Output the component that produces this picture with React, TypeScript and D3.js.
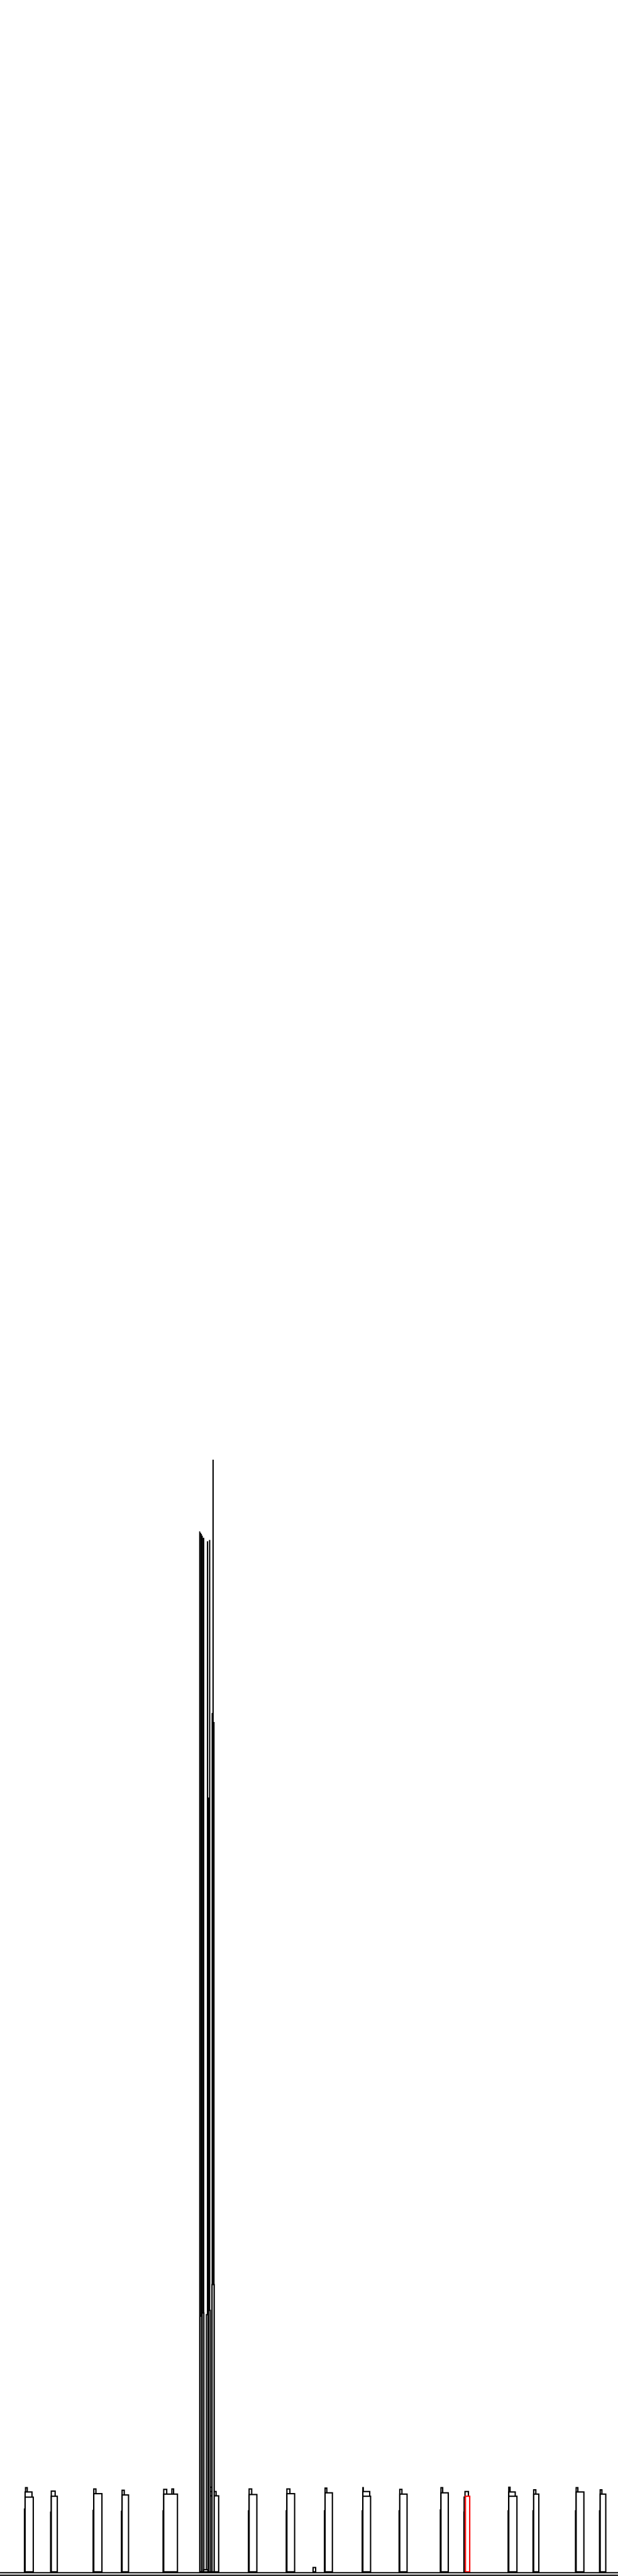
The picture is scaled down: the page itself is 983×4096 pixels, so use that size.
import React from "react";
import * as d3 from "d3";

// Reference frame: positions along the baseline (0..1440) and heights above the baseline.
const X_DOMAIN: [number, number] = [0, 1440];
const Y_MAX = 5990;
const BASE = 5992;

type Seg = [number, number, number]; // [start, end, value]

// lower, slightly offset outline behind each column
const lowLayer: Seg[] = [
  [55.5, 77, 147], [116.5, 133, 140], [215.5, 237, 144], [281.5, 299, 142], [378.5, 413, 143],
  [486.5, 509, 143], [577.5, 598, 143], [665.5, 686, 143], [754.5, 774, 143], [842.5, 863, 143],
  [928.5, 948, 143], [1024.5, 1044, 145], [1079.5, 1091, 140], [1182.5, 1204, 143],
  [1240.5, 1255, 143], [1339.5, 1360, 143], [1395.5, 1411, 143],
];

// tallest small cap on each column
const capLayer: Seg[] = [
  [58, 65, 197], [118, 130, 189], [217, 225, 194], [283, 291, 191], [380, 390, 193], [399, 406, 194],
  [488, 498, 198], [579, 588, 194], [667, 677, 194], [756, 763, 196], [844, 848, 197],
  [930, 938, 193], [1026, 1033, 197], [1082, 1093, 188], [1184, 1190, 198], [1242, 1250, 192],
  [1341, 1348, 197], [1397, 1404, 192],
];

// middle step on some columns
const midLayer: Seg[] = [
  [57, 76, 187], [488, 505, 188], [844, 863, 188], [1184, 1202, 187], [1042, 1046, 184],
];

// main column bodies
const bodyLayer: Seg[] = [
  [57, 79, 175], [118, 135, 177], [217, 239, 183], [283, 301, 180], [380, 415, 182],
  [488, 511, 178], [579, 600, 181], [667, 688, 183], [756, 776, 185], [844, 865, 177],
  [930, 950, 182], [1026, 1046, 185], [1080, 1094, 175], [1184, 1206, 177], [1242, 1257, 182],
  [1341, 1362, 187], [1397, 1413, 182],
];

// highlighted column
const redLayer: Seg[] = [[1083, 1096, 177]];

// the cluster of very tall, narrow columns
const spikeLayer: Seg[] = [
  [495, 498, 2590], [464, 466.5, 2423], [466, 468.5, 2420], [468, 470.5, 2417], [470, 472.5, 2413],
  [472, 476, 2408], [487, 490, 2403], [482, 485, 2400], [493, 496, 2000], [497, 500, 1979],
  [483, 489, 1803], [492.5, 500.5, 670], [484.5, 491.5, 610], [469.5, 476.5, 604],
  [479.5, 486.5, 600], [464.5, 471.5, 597],
];

// tiny columns near the baseline
const smallLayer: Seg[] = [[728, 737, 11], [473, 486, 6]];

const W = 983;
const H = 4096;
const k = W / 1440;

export default function App() {
  const x = d3.scaleLinear().domain(X_DOMAIN).range([0, W]);
  const y = d3.scaleLinear().domain([0, Y_MAX]).range([Y_MAX * k, 0]);
  const sw = 3 * k;
  const bottom = BASE * k;

  const outlined = (segs: Seg[], color: string, key: string) =>
    segs.map((d, i) => {
      const [s, e, v] = d;
      const wOuter = x(e) - x(s);
      if (wOuter <= sw * 1.25) {
        return (
          <rect key={key + i} x={x(s)} y={y(v)} width={wOuter} height={bottom - y(v)} fill={color} />
        );
      }
      return (
        <rect
          key={key + i}
          x={x(s) + sw / 2}
          y={y(v) + sw / 2}
          width={Math.max(0.1, wOuter - sw)}
          height={Math.max(0.1, bottom - y(v) - sw)}
          fill="#ffffff"
          stroke={color}
          strokeWidth={sw}
        />
      );
    });

  const spikesSorted = [...spikeLayer].sort((a, b) => b[2] - a[2]);

  return (
    <svg
      width={W}
      height={H}
      viewBox={`0 0 ${W} ${H}`}
      style={{ position: "absolute", left: 0, top: 0, background: "#ffffff", display: "block" }}
    >
      <rect x={0} y={0} width={W} height={H} fill="#ffffff" />
      <g>{outlined(lowLayer, "#000000", "low")}</g>
      <g>{outlined(capLayer, "#000000", "cap")}</g>
      <g>{outlined(midLayer, "#000000", "mid")}</g>
      <g>{outlined(bodyLayer, "#000000", "body")}</g>
      <g>{outlined(redLayer, "#ff0000", "red")}</g>
      <g>{outlined(spikesSorted, "#000000", "spike")}</g>
      <g>{outlined(smallLayer, "#000000", "small")}</g>
      <line x1={x(0)} x2={x(1440)} y1={(BASE + 0.5) * k} y2={(BASE + 0.5) * k} stroke="#000000" strokeWidth={sw} />
      <line x1={x(0)} x2={x(1440)} y1={(BASE + 6.5) * k} y2={(BASE + 6.5) * k} stroke="#000000" strokeWidth={sw} />
    </svg>
  );
}
